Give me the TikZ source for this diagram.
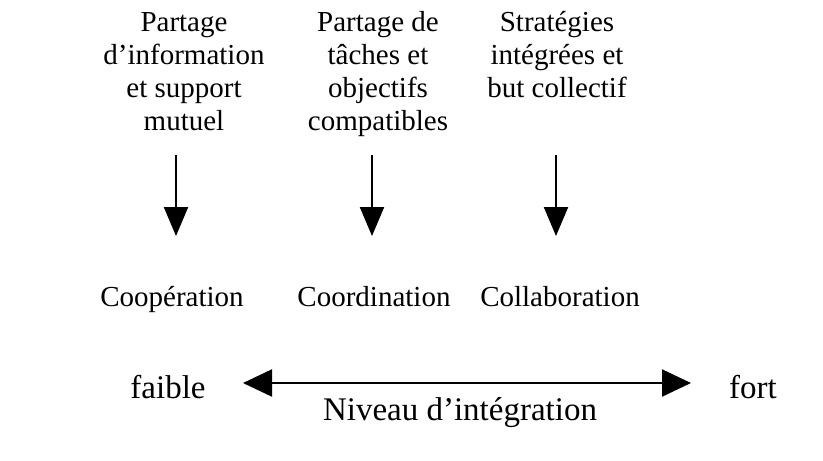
\documentclass[tikz,border=0pt]{standalone}
\usepackage{fontspec}
\setmainfont{Liberation Serif}
\usetikzlibrary{arrows.meta}
\begin{document}
\begin{tikzpicture}[x=1pt,y=-1pt,
  txt/.style={inner sep=0pt, align=center, font=\fontsize{29}{33}\selectfont},
  big/.style={inner sep=0pt, font=\fontsize{33}{38}\selectfont},
  down/.style={line width=2.2pt, -{Triangle[width=24pt,length=29pt]}},
  both/.style={line width=2.2pt, {Triangle[width=27pt,length=29pt]}-{Triangle[width=27pt,length=29pt]}}]
\useasboundingbox (0,0) rectangle (823,461);
% characteristics of each form of work (anchored on the last line)
\node[txt, anchor=base] (t1) at (184,130) {Partage\\d’information\\et support\\mutuel};
\node[txt, anchor=base] (t2) at (378,130) {Partage de\\tâches et\\objectifs\\compatibles};
\node[txt, anchor=base] (t3) at (557,97) {Stratégies\\intégrées et\\but collectif};
% forms of work
\node[txt, anchor=base] (c1) at (172,306) {Coopération};
\node[txt, anchor=base] (c2) at (374,306) {Coordination};
\node[txt, anchor=base] (c3) at (560,306) {Collaboration};
% arrows from characteristics to forms
\coordinate (a1) at (176,155); \coordinate (b1) at (176,236);
\coordinate (a2) at (372,155); \coordinate (b2) at (372,236);
\coordinate (a3) at (556,155); \coordinate (b3) at (556,236);
\draw[down] (a1) -- (b1);
\draw[down] (a2) -- (b2);
\draw[down] (a3) -- (b3);
% integration scale
\node[big, anchor=base] (lo) at (168,398) {faible};
\node[big, anchor=base] (hi) at (753,398) {fort};
\coordinate (l) at (243,383);
\coordinate (r) at (691,383);
\draw[both] (l) -- (r);
\node[big, anchor=base] (niv) at (460,420) {Niveau d’intégration};
\end{tikzpicture}
\end{document}
